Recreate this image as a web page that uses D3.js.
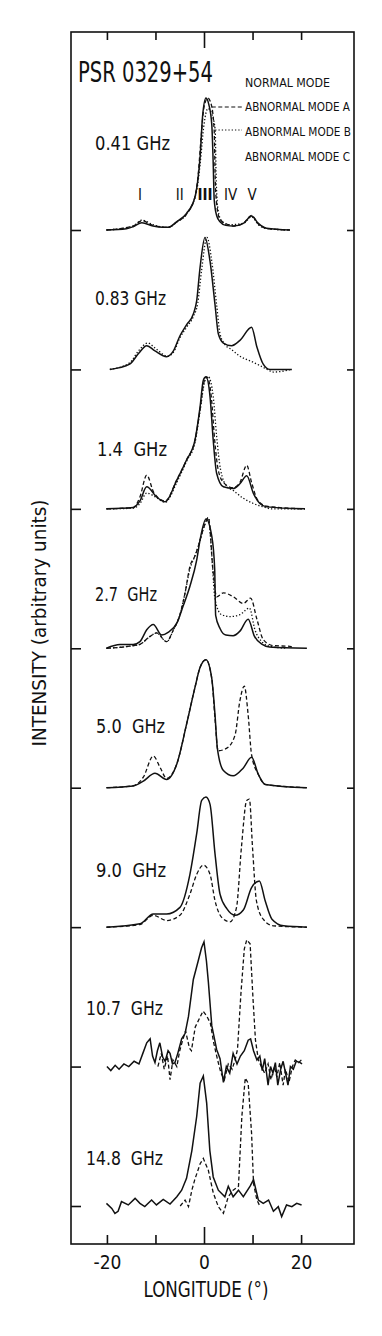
<!DOCTYPE html>
<html>
<head>
<meta charset="utf-8">
<script src="https://cdn.jsdelivr.net/npm/d3@7.9.0/dist/d3.min.js"></script>
<style>
  html, body { margin: 0; padding: 0; background: #fff; }
  svg { display: block; }
  text { font-family: 'DejaVu Sans Condensed', 'DejaVu Sans', sans-serif; font-stretch: condensed; fill: #111; white-space: pre; }
</style>
</head>
<body>
<svg id="chart" width="382" height="1336"></svg>
<script>
// pulse profiles of PSR 0329+54, [longitude (deg), normalised intensity]
const frequencies = ['0.41 GHz', '0.83 GHz', '1.4  GHz', '2.7  GHz', '5.0  GHz', '9.0  GHz', '10.7  GHz', '14.8  GHz'];
const components = ['I', 'II', 'III', 'IV', 'V'];
const componentLon = [-13.2, -5, 0.2, 5.5, 9.9];
const legendLabels = ['NORMAL MODE', 'ABNORMAL MODE A', 'ABNORMAL MODE B', 'ABNORMAL MODE C'];
const xTicks = [-20, -10, 0, 10, 20];

const normal041 = [[-20.1, 0], [-16, 0.01], [-14.6, 0.025], [-12.8, 0.055], [-10.5, 0.03], [-8.5, 0.02], [-7.4, 0.02], [-5.6, 0.063], [-3.6, 0.126], [-1.86, 0.25], [-1.2, 0.4], [-0.8, 0.555], [-0.3, 0.86], [0.4, 1.0], [1.0, 0.95], [1.6, 0.8], [1.9, 0.5], [2.1, 0.23], [2.6, 0.11], [3.3, 0.063], [4.5, 0.035], [6.05, 0.03], [8.1, 0.05], [9.8, 0.106], [11.2, 0.05], [12.9, 0.013], [17.7, 0]];
const modeA041 = [[-20.1, 0], [-14.6, 0.03], [-12.8, 0.07], [-10.5, 0.035], [-7.4, 0.02], [-5.6, 0.06], [-3.6, 0.12], [-1.86, 0.25], [-1.2, 0.42], [-0.6, 0.7], [0, 0.93], [0.8, 1.0], [1.5, 0.95], [2.1, 0.75], [2.3, 0.4], [2.6, 0.2], [3.3, 0.08], [5, 0.04], [6, 0.03], [8.1, 0.05], [9.8, 0.11], [11.2, 0.045], [13, 0.012], [17.7, 0]];
const modeB041 = [[-20.1, 0], [-14.6, 0.03], [-12.8, 0.075], [-10.5, 0.04], [-7.4, 0.02], [-5.6, 0.06], [-3.6, 0.12], [-1.5, 0.3], [-0.8, 0.5], [0, 0.8], [0.8, 0.92], [1.6, 0.88], [2.3, 0.76], [2.5, 0.4], [2.9, 0.15], [3.6, 0.07], [5, 0.04], [8.1, 0.05], [9.8, 0.1], [11.2, 0.04], [13, 0.01], [17.7, 0]];

const normal083 = [[-19.4, 0], [-15.3, 0.04], [-13.5, 0.12], [-11.8, 0.18], [-10.1, 0.14], [-7.7, 0.096], [-6.3, 0.14], [-4.95, 0.255], [-3.57, 0.34], [-2.2, 0.42], [-1.51, 0.52], [-0.82, 0.77], [0.2, 1.0], [1.24, 0.82], [2.27, 0.49], [2.95, 0.27], [3.98, 0.2], [5.7, 0.18], [7.4, 0.22], [9.8, 0.32], [10.9, 0.17], [12.2, 0.04], [13.6, 0], [18.1, 0]];
const modeB083 = [[-19.4, 0], [-15.3, 0.05], [-13.5, 0.14], [-11.6, 0.2], [-10, 0.16], [-7.5, 0.1], [-6.3, 0.13], [-4.95, 0.24], [-3.57, 0.32], [-2.2, 0.4], [-1.3, 0.5], [-0.5, 0.75], [0.6, 1.0], [1.6, 0.82], [2.6, 0.49], [3.3, 0.27], [4.3, 0.19], [5.7, 0.15], [7.4, 0.1], [9.8, 0.06], [11.5, 0.03], [13, 0], [14.3, -0.02], [18, 0]];

const normal14 = [[-20.1, 0], [-14.6, 0.01], [-13.2, 0.06], [-11.8, 0.167], [-9.75, 0.09], [-8.0, 0.053], [-5.6, 0.217], [-3.6, 0.37], [-1.86, 0.52], [-0.82, 0.77], [-0.14, 0.975], [0.41, 1.0], [1.24, 0.85], [1.9, 0.52], [2.6, 0.27], [4.0, 0.167], [6.0, 0.154], [7.4, 0.19], [8.8, 0.25], [10.2, 0.115], [11.5, 0.04], [12.9, 0.015], [20.8, 0]];
const modeA14 = [[-20.1, 0], [-14.6, 0.01], [-13.2, 0.09], [-11.8, 0.255], [-10.3, 0.12], [-8.0, 0.06], [-5.6, 0.22], [-3.6, 0.37], [-1.86, 0.52], [-0.82, 0.75], [0, 0.96], [0.6, 1.0], [1.5, 0.85], [2.2, 0.52], [2.9, 0.3], [4.0, 0.2], [6.0, 0.16], [7.4, 0.2], [8.8, 0.33], [9.8, 0.2], [11, 0.07], [12.9, 0.02], [20.8, 0]];
const modeB14 = [[-20.1, 0], [-14.6, 0.005], [-13.2, 0.04], [-11.8, 0.12], [-10, 0.09], [-8.0, 0.05], [-5.6, 0.2], [-3.6, 0.36], [-1.86, 0.5], [-0.82, 0.74], [0.2, 0.97], [0.9, 1.0], [1.9, 0.85], [2.6, 0.55], [3.4, 0.3], [4.7, 0.17], [6.0, 0.14], [8.1, 0.08], [10.2, 0.04], [12.2, 0.015], [14, 0], [20.8, 0]];

const normal27 = [[-20.1, 0], [-17.3, 0.028], [-14.6, 0.028], [-13.2, 0.05], [-11.8, 0.14], [-10.45, 0.18], [-8.7, 0.1], [-7.4, 0.12], [-5.6, 0.19], [-4.3, 0.32], [-2.9, 0.47], [-1.5, 0.67], [-0.82, 0.82], [0.41, 0.98], [1.6, 0.85], [2.2, 0.6], [2.4, 0.25], [3.3, 0.15], [4.5, 0.1], [6, 0.095], [7.4, 0.13], [9.1, 0.22], [10.4, 0.09], [12, 0.03], [13.5, 0.01], [21.2, 0]];
const modeA27 = [[-20.1, 0], [-14.6, 0.02], [-13.2, 0.03], [-11.1, 0.09], [-9.75, 0.116], [-7.7, 0.05], [-6.3, 0.14], [-4.95, 0.255], [-3.9, 0.42], [-2.9, 0.62], [-1.86, 0.7], [-1.2, 0.77], [0, 0.92], [0.9, 0.99], [1.9, 0.57], [2.6, 0.39], [4.0, 0.42], [6.05, 0.39], [8.1, 0.34], [9.6, 0.38], [10.9, 0.22], [12.2, 0.066], [14.3, 0.02], [17.7, 0.015], [18.4, 0]];
const modeB27 = [[-20.1, 0], [-14.6, 0.02], [-13.2, 0.03], [-11.1, 0.09], [-9.75, 0.116], [-7.7, 0.05], [-6.3, 0.14], [-4.95, 0.255], [-3.9, 0.42], [-2.9, 0.6], [-1.86, 0.7], [-1.2, 0.77], [0, 0.92], [0.9, 0.99], [1.6, 0.7], [2.27, 0.37], [3.6, 0.255], [5.4, 0.24], [7.4, 0.255], [9.35, 0.305], [10.5, 0.14], [11.9, 0.05], [13.6, 0.015], [17, 0]];

const normal50 = [[-20.1, 0], [-14.6, 0.013], [-12.5, 0.05], [-10.1, 0.11], [-7.7, 0.063], [-5.6, 0.18], [-3.6, 0.48], [-1.86, 0.76], [-0.82, 0.91], [0.41, 0.97], [1.59, 0.83], [2.27, 0.55], [2.75, 0.3], [4.0, 0.13], [6.0, 0.09], [8.1, 0.15], [9.8, 0.23], [11.2, 0.1], [12.6, 0.025], [21.2, 0]];
const modeA50 = [[-20.1, 0], [-14.6, 0.015], [-12.5, 0.08], [-10.45, 0.24], [-9, 0.15], [-7.7, 0.07], [-5.6, 0.18], [-3.6, 0.48], [-1.86, 0.76], [-0.82, 0.91], [0.41, 0.97], [1.59, 0.83], [2.27, 0.52], [2.9, 0.28], [4.7, 0.3], [6.4, 0.4], [7.4, 0.66], [8.3, 0.77], [9.1, 0.55], [9.8, 0.25], [11.2, 0.1], [12.6, 0.025], [21.2, 0]];

const normal90 = [[-20.1, 0], [-13.2, 0.025], [-10.45, 0.1], [-7.7, 0.1], [-4.95, 0.15], [-2.9, 0.4], [-1.5, 0.71], [-0.48, 0.96], [0.41, 0.985], [1.24, 0.93], [2.27, 0.555], [3.3, 0.25], [4.7, 0.14], [6.4, 0.09], [8.1, 0.13], [9.8, 0.3], [11.4, 0.35], [12.6, 0.2], [14.0, 0.06], [16.4, 0.01], [21.2, 0]];
const modeA90 = [[-20.1, 0], [-13.2, 0.02], [-10.45, 0.09], [-7.7, 0.05], [-4.95, 0.09], [-2.9, 0.25], [-1.5, 0.4], [-0.14, 0.47], [1.24, 0.4], [2.27, 0.2], [3.6, 0.076], [5.36, 0.04], [6.7, 0.15], [7.7, 0.6], [8.8, 0.96], [9.35, 0.97], [10.0, 0.6], [10.8, 0.2], [12.2, 0.06], [14.3, 0.01], [21.2, 0]];

const normal107 = [[-20, 0], [-19.2, -0.03], [-18.3, 0.01], [-17.5, -0.02], [-16.5, 0.02], [-15.5, 0.0], [-14.4, 0.04], [-13.4, 0.02], [-12.6, 0.1], [-11.8, 0.18], [-11.1, 0.21], [-10.6, 0.08], [-10.1, 0.03], [-9.6, 0.12], [-9.1, 0.18], [-8.5, 0.07], [-8.0, 0.04], [-7.4, 0.12], [-7.0, 0.1], [-6.5, 0.02], [-6.0, 0.03], [-5.4, 0.1], [-4.6, 0.21], [-3.9, 0.25], [-3.2, 0.38], [-2.2, 0.66], [-1.2, 0.8], [-0.5, 0.9], [0, 0.945], [0.5, 0.8], [0.9, 0.64], [1.6, 0.31], [2.6, 0.13], [3.3, 0.06], [4.0, -0.12], [4.6, 0.0], [5.3, -0.05], [6.0, 0.1], [6.8, 0.02], [7.5, 0.08], [8.3, 0.12], [9.1, 0.2], [9.6, 0.21], [10.2, 0.12], [10.9, 0.05], [11.5, 0.08], [12.0, -0.03], [12.5, 0.06], [13.2, -0.14], [13.7, 0.0], [14.2, -0.05], [14.7, 0.03], [15.2, -0.14], [15.8, -0.02], [16.3, 0.04], [17.3, -0.14], [17.8, 0.0], [18.4, -0.02], [19.0, 0.04], [19.8, 0.03], [20.2, 0.02]];
const modeA107 = [[-9.5, 0.0], [-8.8, 0.1], [-8.2, -0.02], [-7.5, 0.08], [-7.0, -0.1], [-6.4, 0.05], [-5.6, 0.0], [-5.0, 0.12], [-4.4, 0.2], [-3.8, 0.27], [-3.0, 0.14], [-2.6, 0.12], [-1.8, 0.3], [-1.0, 0.36], [-0.2, 0.42], [0.6, 0.38], [1.3, 0.33], [2.0, 0.18], [2.8, 0.05], [3.5, -0.05], [4.2, -0.1], [5.0, 0.02], [5.8, -0.02], [6.4, 0.05], [6.9, 0.13], [7.6, 0.55], [8.3, 0.89], [8.8, 0.96], [9.5, 0.93], [10.1, 0.51], [10.6, 0.2], [11.2, 0.05], [11.8, 0.0], [12.5, -0.05], [13.2, 0.02], [13.8, -0.1], [14.5, 0.0], [15.0, -0.08], [15.6, 0.03], [16.3, -0.14], [16.8, -0.02], [17.5, -0.12], [18.2, 0.0], [18.8, 0.05], [19.5, 0.03], [20.3, 0.06]];

const normal148 = [[-20.1, 0.02], [-19.0, -0.018], [-18.35, -0.056], [-17.7, -0.04], [-17.0, 0.033], [-15.6, 0.008], [-14.2, 0.058], [-13.2, 0.02], [-12.2, -0.005], [-10.8, 0.045], [-9.8, 0.008], [-8.4, 0.05], [-7.0, 0.015], [-5.6, 0.07], [-4.6, 0.12], [-3.6, 0.21], [-2.5, 0.42], [-1.5, 0.68], [-0.8, 0.93], [-0.14, 0.985], [0.55, 0.78], [1.2, 0.42], [1.9, 0.22], [2.95, 0.12], [4.3, 0.07], [5.0, 0.15], [6.0, 0.07], [7.1, 0.12], [8.1, 0.07], [9.5, 0.15], [10.2, 0.2], [11.2, 0.045], [12.2, 0.02], [13.3, 0.045], [14.3, -0.04], [15.3, -0.005], [16.0, -0.08], [17.0, 0.008], [18.1, -0.005], [19.1, 0.02], [20.1, 0.008]];
const modeA148 = [[-4.9, 0], [-3.9, 0.045], [-3.2, -0.005], [-2.5, 0.12], [-1.9, 0.2], [-0.8, 0.32], [-0.14, 0.36], [0.9, 0.27], [1.9, 0.1], [2.95, -0.005], [4.0, -0.055], [5.0, 0.07], [6.0, 0.12], [7.1, 0.15], [7.8, 0.68], [8.5, 0.97], [9.1, 0.93], [9.8, 0.55], [10.2, 0.17], [10.9, 0.045], [11.5, 0]];

const panels = [
  { label: frequencies[0], normal: normal041, modeA: modeA041, modeB: modeB041, noisy: false },
  { label: frequencies[1], normal: normal083, modeA: null, modeB: modeB083, noisy: false },
  { label: frequencies[2], normal: normal14, modeA: modeA14, modeB: modeB14, noisy: false },
  { label: frequencies[3], normal: normal27, modeA: modeA27, modeB: modeB27, noisy: false },
  { label: frequencies[4], normal: normal50, modeA: modeA50, modeB: null, noisy: false },
  { label: frequencies[5], normal: normal90, modeA: modeA90, modeB: null, noisy: false },
  { label: frequencies[6], normal: normal107, modeA: modeA107, modeB: null, noisy: true },
  { label: frequencies[7], normal: normal148, modeA: modeA148, modeB: null, noisy: true },
];

// layout
const frame = { left: 71, right: 354, top: 32, bottom: 1244 };
const panelHeight = 132;
const labelLift = [80, 64, 53, 47, 55, 50, 52, 41];
const labelX = [95, 95, 97, 95, 96, 96, 86, 86];
const labelWidth = [75, 71, 70, 62, 69, 70, 77, 77];

const svg = d3.select('#chart');
svg.append('rect').attr('width', 382).attr('height', 1336).attr('fill', '#fff');

const x = d3.scaleLinear().domain([-27.4, 30.9]).range([frame.left, frame.right]);
const baseline = d3.scaleLinear().domain([0, 7]).range([230, 1206]);

const line = d3.line().x((d) => x(d[0]));

panels.forEach((panel, i) => {
  const y = d3.scaleLinear().domain([0, 1]).range([baseline(i), baseline(i) - panelHeight]);
  line.y((d) => y(d[1])).curve(panel.noisy ? d3.curveLinear : d3.curveMonotoneX);

  const g = svg.append('g').attr('class', 'panel');

  if (panel.modeB) {
    g.append('path')
      .attr('d', line(panel.modeB))
      .attr('fill', 'none')
      .attr('stroke', '#111')
      .attr('stroke-width', 1.3)
      .attr('stroke-dasharray', '1.3 2');
  }
  if (panel.modeA) {
    g.append('path')
      .attr('d', line(panel.modeA))
      .attr('fill', 'none')
      .attr('stroke', '#111')
      .attr('stroke-width', 1.3)
      .attr('stroke-dasharray', '4 2.5');
  }
  g.append('path')
    .attr('d', line(panel.normal))
    .attr('fill', 'none')
    .attr('stroke', '#111')
    .attr('stroke-width', 1.5);

  g.append('text')
    .attr('x', labelX[i])
    .attr('y', baseline(i) - labelLift[i])
    .attr('font-size', 19)
    .attr('textLength', labelWidth[i])
    .attr('lengthAdjust', 'spacingAndGlyphs')
    .text(panel.label);
});

// frame and axes
svg.append('rect')
  .attr('x', frame.left)
  .attr('y', frame.top)
  .attr('width', frame.right - frame.left)
  .attr('height', frame.bottom - frame.top)
  .attr('fill', 'none')
  .attr('stroke', '#111')
  .attr('stroke-width', 1.6);

function styleAxis(g) {
  g.attr('font-family', null).attr('font-size', null);
  g.select('.domain').remove();
  g.selectAll('line').attr('stroke', '#111').attr('stroke-width', 1.6);
}

const bottomAxis = svg.append('g')
  .attr('transform', `translate(0,${frame.bottom})`)
  .call(d3.axisBottom(x).tickValues(xTicks).tickSizeInner(-9).tickSizeOuter(0).tickPadding(12)
    .tickFormat((d) => (Math.abs(d) === 10 ? '' : String(d))))
  .call(styleAxis);
bottomAxis.selectAll('text').attr('font-size', 19).attr('fill', '#111');
bottomAxis.selectAll('.tick').filter((d) => d === 0).select('line').attr('y2', -17);

const topAxis = svg.append('g')
  .attr('transform', `translate(0,${frame.top})`)
  .call(d3.axisTop(x).tickValues(xTicks).tickSizeInner(-8).tickSizeOuter(0).tickFormat(''))
  .call(styleAxis);
topAxis.selectAll('.tick').filter((d) => d === 0).select('line').attr('y2', 16);

svg.append('g')
  .attr('transform', `translate(${frame.left},0)`)
  .call(d3.axisLeft(baseline).tickValues(d3.range(8)).tickSizeInner(-10).tickSizeOuter(0).tickFormat(''))
  .call(styleAxis);

svg.append('g')
  .attr('transform', `translate(${frame.right},0)`)
  .call(d3.axisRight(baseline).tickValues(d3.range(8)).tickSizeInner(-7).tickSizeOuter(0).tickFormat(''))
  .call(styleAxis);

// titles
svg.append('text')
  .attr('transform', 'translate(78,82) scale(1,1.3)')
  .attr('font-size', 22)
  .attr('textLength', 135).attr('lengthAdjust', 'spacingAndGlyphs')
  .text('PSR 0329+54');

svg.append('text')
  .attr('x', 206).attr('y', 1297)
  .attr('text-anchor', 'middle')
  .attr('font-size', 22)
  .attr('textLength', 125).attr('lengthAdjust', 'spacingAndGlyphs')
  .text('LONGITUDE (°)');

svg.append('text')
  .attr('transform', 'translate(46,623) rotate(-90)')
  .attr('text-anchor', 'middle')
  .attr('font-size', 19)
  .attr('textLength', 247).attr('lengthAdjust', 'spacingAndGlyphs')
  .text('INTENSITY (arbitrary units)');

// component labels
svg.append('g')
  .selectAll('text')
  .data(components)
  .join('text')
  .attr('x', (d, i) => x(componentLon[i]))
  .attr('y', 200)
  .attr('text-anchor', 'middle')
  .attr('font-size', 15)
  .attr('font-weight', (d) => (d === 'III' ? 'bold' : 'normal'))
  .text((d) => d);

// legend
const legendY = [87, 111, 136, 161];
const legendWidth = [85, 105, 106, 105];
svg.append('g')
  .selectAll('text')
  .data(legendLabels)
  .join('text')
  .attr('x', 245)
  .attr('y', (d, i) => legendY[i])
  .attr('font-size', 12)
  .attr('textLength', (d, i) => legendWidth[i])
  .attr('lengthAdjust', 'spacingAndGlyphs')
  .text((d) => d);

svg.append('line')
  .attr('x1', x(1.6)).attr('x2', 242).attr('y1', 107).attr('y2', 107)
  .attr('stroke', '#111').attr('stroke-width', 1.2).attr('stroke-dasharray', '4 2.5');
svg.append('line')
  .attr('x1', x(2.3)).attr('x2', 242).attr('y1', 130).attr('y2', 130)
  .attr('stroke', '#111').attr('stroke-width', 1.2).attr('stroke-dasharray', '1.3 2');
</script>
</body>
</html>
